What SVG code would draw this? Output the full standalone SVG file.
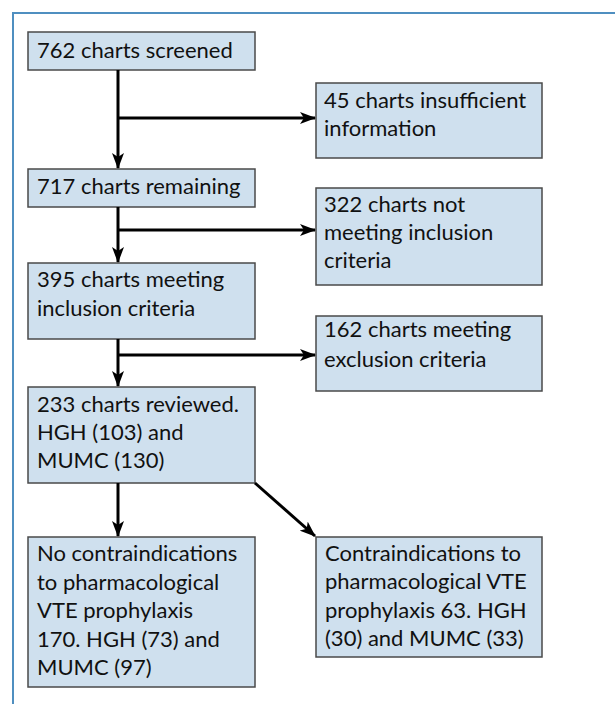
<svg xmlns="http://www.w3.org/2000/svg" width="615" height="704" viewBox="0 0 615 704">
<style>
.box{fill:#cfe0ee;stroke:#4a4a4a;stroke-width:1.5}
.t{font-family:Lato,"Liberation Sans",sans-serif;font-size:22px;fill:#111}
.c{stroke:#000;stroke-width:3;fill:none}
</style>
<defs>
<marker id="ah" viewBox="0 0 16 12" refX="15" refY="6" markerWidth="16" markerHeight="12" markerUnits="userSpaceOnUse" orient="auto">
<path d="M0,0 L16,6 L0,12 L4,6 Z" fill="#000"/>
</marker>
</defs>
<path d="M13,704 V13 H615" fill="none" stroke="#4f8fc0" stroke-width="2"/>
<g id="n1"><rect class="box" x="28" y="32" width="227" height="38"/><text class="t" x="37" y="58">762 charts screened</text></g>
<g id="n2"><rect class="box" x="316" y="83" width="226" height="75"/><text class="t" x="324" y="108">45 charts insufficient</text><text class="t" x="324" y="136">information</text></g>
<g id="n3"><rect class="box" x="28" y="169" width="227" height="38"/><text class="t" x="37" y="194">717 charts remaining</text></g>
<g id="n4"><rect class="box" x="316" y="188" width="226" height="97"/><text class="t" x="324" y="212">322 charts not</text><text class="t" x="324" y="240">meeting inclusion</text><text class="t" x="324" y="268">criteria</text></g>
<g id="n5"><rect class="box" x="28" y="263" width="227" height="76"/><text class="t" x="37" y="287">395 charts meeting</text><text class="t" x="37" y="316">inclusion criteria</text></g>
<g id="n6"><rect class="box" x="316" y="316" width="226" height="75"/><text class="t" x="324" y="337">162 charts meeting</text><text class="t" x="324" y="367">exclusion criteria</text></g>
<g id="n7"><rect class="box" x="28" y="387" width="227" height="96"/><text class="t" x="37" y="412">233 charts reviewed.</text><text class="t" x="37" y="440">HGH (103) and</text><text class="t" x="37" y="468">MUMC (130)</text></g>
<g id="n8"><rect class="box" x="28" y="537" width="227" height="150"/><text class="t" x="37" y="561">No contraindications</text><text class="t" x="37" y="590">to pharmacological</text><text class="t" x="37" y="618">VTE prophylaxis</text><text class="t" x="37" y="647">170. HGH (73) and</text><text class="t" x="37" y="675">MUMC (97)</text></g>
<g id="n9"><rect class="box" x="316" y="537" width="226" height="120"/><text class="t" x="325" y="561">Contraindications to</text><text class="t" x="325" y="589">pharmacological VTE</text><text class="t" x="325" y="618">prophylaxis 63. HGH</text><text class="t" x="325" y="646">(30) and MUMC (33)</text></g>
<g id="connectors">
<path class="c" d="M118,70 V168" marker-end="url(#ah)"/>
<path class="c" d="M118,118 H315" marker-end="url(#ah)"/>
<path class="c" d="M118,207 V262" marker-end="url(#ah)"/>
<path class="c" d="M118,230 H315" marker-end="url(#ah)"/>
<path class="c" d="M118,339 V386" marker-end="url(#ah)"/>
<path class="c" d="M118,355 H315" marker-end="url(#ah)"/>
<path class="c" d="M118,483 V536" marker-end="url(#ah)"/>
<path class="c" d="M255,483 L315,536" marker-end="url(#ah)"/>
</g>
</svg>
